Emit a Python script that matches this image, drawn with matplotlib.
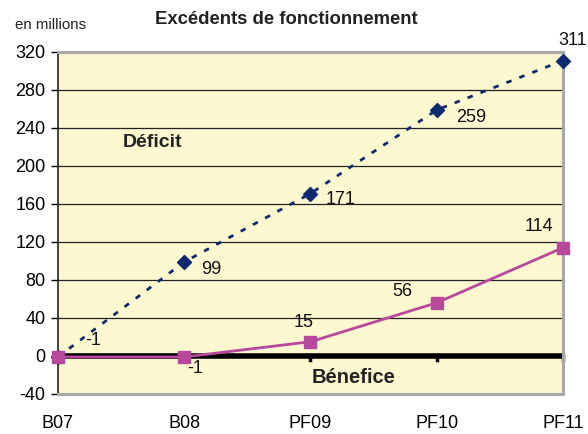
import matplotlib
matplotlib.use("Agg")
import matplotlib.pyplot as plt

plt.rcParams['font.family'] = ['Liberation Sans', 'DejaVu Sans']

categories = ["B07", "B08", "PF09", "PF10", "PF11"]
deficit = [-1, 99, 171, 259, 311]
benefice = [-1, -1, 15, 56, 114]
yticks = [-40, 0, 40, 80, 120, 160, 200, 240, 280, 320]

blue = "#0F2A6E"
pink = "#B8489C"
bg = "#FDF8D0"

fig = plt.figure(figsize=(5.88, 4.34), dpi=100)
ax = fig.add_axes([0.0986, 0.0922, 0.8589, 0.7880])
ax.set_facecolor(bg)

x = list(range(len(categories)))
ax.set_xlim(0, len(categories) - 1)
ax.set_ylim(-40, 320)
ax.set_yticks(yticks)
ax.set_yticklabels([str(v) for v in yticks], fontsize=13)
ax.set_xticks(x)
ax.set_xticklabels(categories, fontsize=13)
ax.tick_params(axis='x', length=0, pad=15)
ax.tick_params(axis='y', length=5, width=1, pad=4)

for v in yticks[1:-1]:
    if v != 0:
        ax.axhline(v, color="#222222", lw=0.9, zorder=1)

# zero line
ax.axhline(0, color="black", lw=4, zorder=2)
for xi in x:
    ax.plot([xi, xi], [0, -4.5], color="black", lw=2.5, zorder=2, clip_on=False)

ax.plot(x, deficit, linestyle=(0, (2, 3)), color=blue, lw=2, marker="D",
        markersize=7, zorder=4, clip_on=False)
ax.plot(x, benefice, linestyle="-", color=pink, lw=2, marker="s",
        markersize=9, zorder=5, clip_on=False)

blue_off = [(35, 16), (27, -8), (30, -6), (34, -8), (10, 20)]
for xi, v, off in zip(x, deficit, blue_off):
    ax.annotate(str(v), (xi, v), xytext=off, textcoords="offset pixels",
                ha="center", va="center", fontsize=13, color="#111111",
                annotation_clip=False)

pink_off = [None, (11, -12), (-7, 19), (-34, 11), (-24, 21)]
for xi, v, off in zip(x, benefice, pink_off):
    if off is None:
        continue
    ax.annotate(str(v), (xi, v), xytext=off, textcoords="offset pixels",
                ha="center", va="center", fontsize=13, color="#111111",
                annotation_clip=False)

ax.text(0.745, 225, "Déficit", fontsize=14, fontweight="bold", ha="center",
        va="center", color="#222222")
ax.text(2.34, -23, "Bénefice", fontsize=14.5, fontweight="bold", ha="center",
        va="center", color="#222222")

for s in ["top", "right", "bottom"]:
    ax.spines[s].set_color("#A8A8A8")
    ax.spines[s].set_linewidth(2.2)
ax.spines["left"].set_color("#222222")
ax.spines["left"].set_linewidth(1.2)

fig.text(286 / 588, 1 - 20 / 434, "Excédents de fonctionnement", fontsize=13.3,
         fontweight="bold", ha="center", va="center", color="#222222")
fig.text(15 / 588, 1 - 25 / 434, "en millions", fontsize=10.8, ha="left",
         va="center", color="#222222")

fig.savefig("out.png", dpi=100)
